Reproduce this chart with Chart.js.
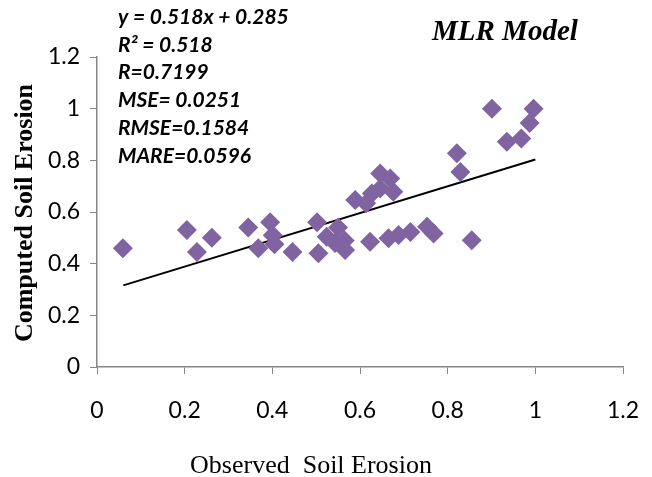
<!DOCTYPE html>
<html>
<head>
<meta charset="utf-8">
<script src="https://cdn.jsdelivr.net/npm/chart.js@4"></script>
<style>
  html, body { margin: 0; padding: 0; background: #fff; }
  #wrap { width: 652px; height: 477px; }
</style>
</head>
<body>
<div id="wrap"><canvas id="myChart" width="652" height="477"></canvas></div>
<script>
// observed vs computed values
var observed = [0.059,0.205,0.228,0.262,0.345,0.368,0.395,0.401,0.405,0.446,
  0.502,0.505,0.524,0.543,0.55,0.565,0.566,0.589,0.614,0.627,
  0.646,0.646,0.669,0.676,0.623,0.665,0.688,0.715,0.753,0.768,
  0.821,0.829,0.855,0.901,0.996,0.987,0.935,0.968];
var computed = [0.46,0.53,0.445,0.50,0.54,0.46,0.56,0.51,0.475,0.445,
  0.56,0.44,0.504,0.48,0.54,0.49,0.453,0.646,0.634,0.672,
  0.749,0.691,0.730,0.678,0.485,0.498,0.511,0.523,0.543,0.517,
  0.827,0.755,0.491,1.0,1.0,0.945,0.872,0.885];

// trend line end points
var trendX = [0.06, 1.0];
var trendY = [0.316, 0.803];

var statLines = ["y = 0.518x + 0.285", "R\u00b2 = 0.518", "R=0.7199",
  "MSE= 0.0251", "RMSE=0.1584", "MARE=0.0596"];
var modelName = "MLR Model";

var scatterPts = observed.map(function (x, i) { return {x: x, y: computed[i]}; });
var trendPts = trendX.map(function (x, i) { return {x: x, y: trendY[i]}; });

var textPlugin = {
  id: "notes",
  afterDraw: function (chart) {
    var ctx = chart.ctx;
    ctx.save();
    ctx.fillStyle = "#000";
    ctx.textBaseline = "middle";
    ctx.textAlign = "left";
    ctx.font = "italic bold 21px Lato";
    for (var i = 0; i < statLines.length; i++) {
      ctx.fillText(statLines[i], 118, 17 + i * 27.8);
    }
    ctx.font = "italic bold 29px 'Liberation Serif'";
    ctx.fillText(modelName, 432, 33);

    ctx.font = "26px 'Liberation Serif'";
    ctx.textAlign = "center";
    ctx.fillText("Observed  Soil Erosion", 311, 466);

    ctx.translate(25, 213);
    ctx.rotate(-Math.PI / 2);
    ctx.font = "bold 26px 'Liberation Serif'";
    ctx.fillText("Computed Soil Erosion", 0, 0);
    ctx.restore();
  }
};

function fmt(v) { return String(Math.round(v * 10) / 10); }

new Chart("myChart", {
  type: "scatter",
  data: {
    datasets: [{
      data: scatterPts,
      pointStyle: "rectRot",
      pointRadius: 10,
      pointBackgroundColor: "#8064A2",
      pointBorderColor: "#8064A2",
      pointBorderWidth: 0
    }, {
      type: "line",
      data: trendPts,
      borderColor: "#000",
      borderWidth: 2,
      pointRadius: 0,
      fill: false
    }]
  },
  options: {
    responsive: false,
    animation: false,
    layout: {padding: {left: 0, right: 29, top: 57, bottom: 0}},
    plugins: {legend: {display: false}, tooltip: {enabled: false}},
    scales: {
      x: {
        type: "linear", min: 0, max: 1.2,
        ticks: {stepSize: 0.2, color: "#000", padding: 23, callback: fmt, font: {family: "Lato", size: 23}},
        grid: {drawOnChartArea: false, tickLength: 7, color: "#868686"},
        border: {color: "#868686", width: 1.5},
        afterFit: function (s) { s.height = 110; s.paddingRight = 0; s.paddingLeft = 0; }
      },
      y: {
        min: 0, max: 1.2,
        ticks: {stepSize: 0.2, color: "#000", padding: 10, callback: fmt, font: {family: "Lato", size: 23}},
        grid: {drawOnChartArea: false, tickLength: 7, color: "#868686"},
        border: {color: "#868686", width: 1.5},
        afterFit: function (s) { s.width = 97; s.paddingTop = 0; s.paddingBottom = 0; }
      }
    }
  },
  plugins: [textPlugin]
});
</script>
</body>
</html>
